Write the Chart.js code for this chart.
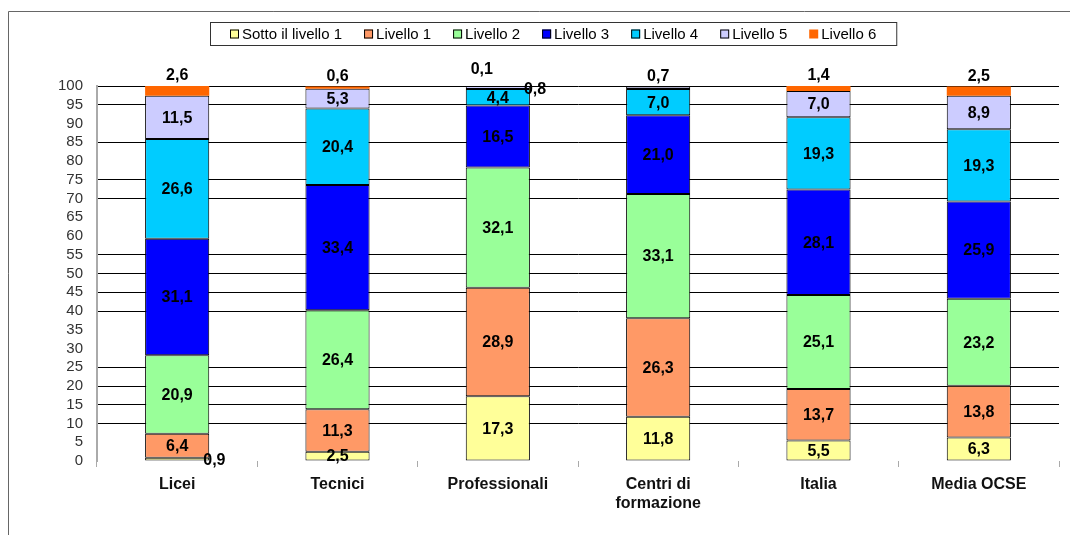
<!DOCTYPE html>
<html>
<head>
<meta charset="utf-8">
<script src="https://cdn.jsdelivr.net/npm/chart.js@4/dist/chart.umd.min.js"></script>
<style>
  html, body { margin: 0; padding: 0; background: #fff; }
  #wrap { width: 1070px; height: 535px; position: relative; }
</style>
</head>
<body>
<div id="wrap"><canvas id="levelsChart"></canvas></div>
<script>
const categories = ['Licei', 'Tecnici', 'Professionali', ['Centri di', 'formazione'], 'Italia', 'Media OCSE'];

const levelNames = ['Sotto il livello 1', 'Livello 1', 'Livello 2', 'Livello 3', 'Livello 4', 'Livello 5', 'Livello 6'];
const levelColors = ['#FFFF99', '#FF9966', '#99FF99', '#0000FF', '#00CCFF', '#CCCCFF', '#FF6600'];

// percent of students per level, one value per category
const below1 = [0.9, 2.5, 17.3, 11.8, 5.5, 6.3];
const level1 = [6.4, 11.3, 28.9, 26.3, 13.7, 13.8];
const level2 = [20.9, 26.4, 32.1, 33.1, 25.1, 23.2];
const level3 = [31.1, 33.4, 16.5, 21.0, 28.1, 25.9];
const level4 = [26.6, 20.4, 4.4, 7.0, 19.3, 19.3];
const level5 = [11.5, 5.3, 0.8, 0.7, 7.0, 8.9];
const level6 = [2.6, 0.6, 0.1, 0, 1.4, 2.5];

const yTicks = [0, 5, 10, 15, 20, 25, 30, 35, 40, 45, 50, 55, 60, 65, 70, 75, 80, 85, 90, 95, 100];
// gridlines that are visible in the original picture
const shownGrid = [10, 15, 20, 25, 40, 45, 50, 55, 70, 75, 85, 95, 100];

const series = [below1, level1, level2, level3, level4, level5, level6];

const FONT = '"Liberation Sans", Arial, sans-serif';

// where the small labels go (dataset,index)
const placement = {
    '0,0': 'right',
    '6,0': 'above',
    '6,1': 'above',
    '5,2': 'right',
    '6,2': 'aboveLeft',
    '5,3': 'above',
    '6,4': 'above',
    '6,5': 'above'
};

function fmt(v) {
    return v.toFixed(1).replace('.', ',');
}

const frame = {
    id: 'frame',
    beforeDraw(chart) {
        const ctx = chart.ctx;
        ctx.save();
        ctx.fillStyle = '#fff';
        ctx.fillRect(0, 0, chart.width, chart.height);
        ctx.strokeStyle = '#666';
        ctx.lineWidth = 1;
        ctx.beginPath();
        ctx.moveTo(8.5, chart.height);
        ctx.lineTo(8.5, 11.5);
        ctx.lineTo(chart.width, 11.5);
        ctx.stroke();
        ctx.restore();
    }
};

const boxedLegend = {
    id: 'boxedLegend',
    afterDraw(chart) {
        const ctx = chart.ctx;
        ctx.save();
        ctx.font = '15px ' + FONT;
        ctx.textBaseline = 'middle';
        const top = 22, h = 23, left = 210, pad = 20, gap = 22;
        const cy = top + h / 2;
        let x = left + pad;
        chart.data.datasets.forEach((ds) => {
            ctx.fillStyle = ds.backgroundColor;
            ctx.fillRect(x, cy - 4, 9, 9);
            if (ds.borderWidth > 0) {
                ctx.strokeStyle = '#000';
                ctx.lineWidth = 1;
                ctx.strokeRect(x + 0.5, cy - 3.5, 8, 8);
            }
            ctx.fillStyle = '#000';
            ctx.fillText(ds.label, x + 12, cy + 1);
            x += 12 + ctx.measureText(ds.label).width + gap;
        });
        const right = x - gap + pad;
        ctx.strokeStyle = '#333';
        ctx.lineWidth = 1;
        ctx.strokeRect(left + 0.5, top + 0.5, right - left, h);
        ctx.restore();
    }
};

const segmentLabels = {
    id: 'segmentLabels',
    afterDatasetsDraw(chart) {
        const ctx = chart.ctx;
        ctx.save();
        ctx.font = 'bold 16px ' + FONT;
        ctx.fillStyle = '#000';
        ctx.textBaseline = 'middle';
        chart.data.datasets.forEach((ds, di) => {
            chart.getDatasetMeta(di).data.forEach((bar, i) => {
                const v = ds.data[i];
                if (!v) return;
                const place = placement[di + ',' + i] || 'center';
                let x = bar.x;
                let y = (bar.y + bar.base) / 2;
                ctx.textAlign = 'center';
                if (place === 'above') {
                    y = bar.y - 11;
                } else if (place === 'right') {
                    x = bar.x + bar.width / 2 - 6;
                    y += 1;
                    ctx.textAlign = 'left';
                } else if (place === 'aboveLeft') {
                    x = bar.x - 16;
                    y = bar.y - 17;
                }
                ctx.fillText(fmt(v), x, y + 1);
            });
        });
        ctx.restore();
    }
};

const ctx = document.getElementById('levelsChart').getContext('2d');

const chart = new Chart(ctx, {
    type: 'bar',
    data: {
        labels: categories,
        datasets: series.map((values, k) => ({
            label: levelNames[k],
            data: values,
            backgroundColor: levelColors[k],
            borderColor: '#000',
            borderWidth: k === 6 ? 0 : 1,
            borderSkipped: false,
            categoryPercentage: 0.4,
            barPercentage: 1
        }))
    },
    options: {
        responsive: true,
        maintainAspectRatio: false,
        animation: false,
        layout: {
            padding: { left: 0, right: 11, top: 86, bottom: 0 }
        },
        plugins: {
            legend: { display: false },
            tooltip: { enabled: false }
        },
        scales: {
            x: {
                stacked: true,
                grid: {
                    display: true,
                    drawOnChartArea: false,
                    drawTicks: true,
                    tickLength: 6,
                    color: '#aaa',
                    offset: true
                },
                border: { display: false },
                ticks: {
                    color: '#111',
                    font: { family: FONT, size: 16, weight: 'bold' },
                    padding: 8,
                    maxRotation: 0
                },
                afterFit(scale) { scale.height = 74; }
            },
            y: {
                stacked: true,
                min: 0,
                max: 100,
                afterBuildTicks(scale) {
                    scale.ticks = yTicks.map(v => ({ value: v }));
                },
                grid: {
                    drawTicks: false,
                    lineWidth: 1,
                    color: (c) => shownGrid.includes(c.tick.value) ? '#000' : 'rgba(0,0,0,0)'
                },
                border: { display: true, color: '#aaa', width: 2 },
                ticks: {
                    autoSkip: false,
                    color: '#333',
                    font: { family: FONT, size: 15 },
                    padding: 14
                },
                afterFit(scale) { scale.width = 97; }
            }
        }
    },
    plugins: [frame, segmentLabels, boxedLegend]
});
</script>
</body>
</html>
